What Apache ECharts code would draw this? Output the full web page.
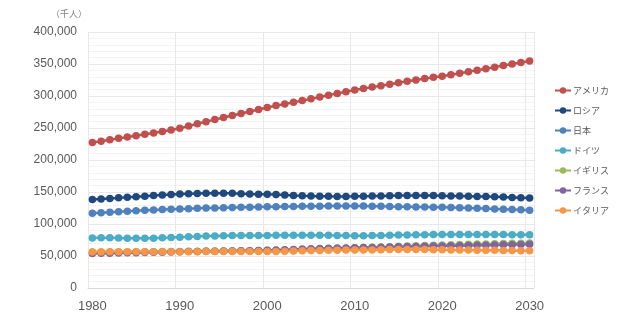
<!DOCTYPE html>
<html>
<head>
<meta charset="utf-8">
<script src="https://cdn.jsdelivr.net/npm/echarts@6/dist/echarts.min.js"></script>
<style>html,body{margin:0;padding:0;background:#fff;}#c{width:640px;height:326px;}</style>
</head>
<body>
<div id="c"></div>
<script>
const years = [];
for (let y = 1980; y <= 2030; y++) years.push(String(y));

const seriesNames = ['アメリカ','ロシア','日本','ドイツ','イギリス','フランス','イタリア'];
const colors = ['#C0504D','#1F497D','#4F81BD','#4BACC6','#9BBB59','#8064A2','#F79646'];

const usa = [227225,229466,231664,233792,235825,237924,240133,242289,244499,246819,
  249623,252981,256514,259919,263126,266278,269394,272657,275854,279040,
  282162,284969,287625,290108,292805,295517,298380,301231,304094,306772,
  309327,311583,313877,316060,318386,320739,323072,325122,327167,329193,
  331003,333250,335600,337950,340300,342650,345100,347500,349900,352300,354700];
const russia = [138257,139094,139957,140823,141696,142576,143479,144394,145283,146089,
  146758,147258,147633,147911,148073,148085,147868,147433,146948,146524,
  146401,145976,145306,144649,144067,143672,143338,143180,143113,143138,
  143243,143411,143617,143850,144097,144342,144504,144496,144478,144406,
  144104,143900,143650,143400,143100,142800,142400,142000,141600,141200,140800];
const japan = [116807,117651,118455,119272,120035,120754,121408,122007,122555,123062,
  123537,123990,124423,124829,125178,125439,125737,126018,126299,126587,
  126843,127075,127298,127513,127680,127773,127854,127940,128000,128050,
  128070,128000,127800,127600,127300,127100,126900,126700,126500,126300,
  126000,125700,125300,124900,124500,124100,123600,123100,122600,122100,121600];
const germany = [78289,78408,78333,78128,77858,77684,77720,77839,78390,78759,
  79433,80013,80624,81156,81438,81678,81915,82034,82047,82100,
  82211,82350,82488,82534,82516,82469,82376,82266,82110,81902,
  81777,81798,81950,82140,82400,82660,82930,83130,83280,83400,
  83500,83560,83600,83620,83610,83580,83530,83460,83380,83290,83200];
const uk = [56314,56333,56313,56332,56410,56550,56680,56800,56920,57060,
  57214,57390,57540,57680,57830,57980,58110,58240,58400,58610,
  58867,59120,59370,59650,59990,60400,60830,61320,61810,62280,
  62760,63260,63700,64130,64610,65130,65600,66020,66460,66840,
  67200,67560,67900,68250,68580,68900,69210,69520,69820,70110,70400];
const france = [53880,54150,54440,54720,54980,55240,55500,55780,56050,56360,
  56667,56950,57200,57420,57610,57800,57990,58180,58380,58660,
  59015,59420,59860,60310,60750,61180,61600,62000,62330,62620,
  62880,63130,63400,63680,63960,64450,64700,64980,65250,65480,
  65700,65950,66200,66450,66700,66950,67200,67450,67700,67950,68200];
const italy = [56329,56420,56500,56560,56600,56620,56640,56660,56680,56700,
  56719,56750,56800,56840,56860,56880,56890,56900,56910,56920,
  56942,57060,57300,57690,58080,58440,58690,58920,59100,59200,
  59277,59380,59540,59850,60180,60230,60200,60100,59980,59850,
  59700,59550,59400,59250,59100,58950,58800,58640,58480,58320,58150];

const allData = [usa, russia, japan, germany, uk, france, italy];

const yTicks = [0,50000,100000,150000,200000,250000,300000,350000,400000];

const chart = echarts.init(document.getElementById('c'), null, {renderer:'canvas'});
const fam = "'Liberation Sans','Noto Sans CJK JP',sans-serif";
chart.setOption({
  animation: false,
  textStyle: {fontFamily: fam},
  color: colors,
  title: {
    text: '（千人）', left: 46, top: 4,
    textStyle: {fontSize: 9, fontWeight: 'normal', color: '#7f7f7f', fontFamily: "'Noto Sans CJK JP',sans-serif"}
  },
  legend: {
    orient: 'vertical', left: 554, top: 86, padding: 0,
    itemWidth: 16, itemHeight: 8, itemGap: 11,
    textStyle: {fontSize: 9, color: '#595959', fontFamily: "'Noto Sans CJK JP',sans-serif", padding: [0,0,0,-3]},
    data: seriesNames
  },
  grid: {left: 88, right: 106, top: 32, bottom: 38, containLabel: false},
  xAxis: {
    type: 'category', data: years, boundaryGap: true,
    axisLine: {show: true, lineStyle: {color: '#d9d9d9'}},
    axisTick: {show: false},
    axisLabel: {interval: 9, fontSize: 13, color: '#595959', margin: 12},
    splitLine: {show: true, interval: 9, lineStyle: {color: '#e8e8e8'}}
  },
  yAxis: {
    type: 'value', min: yTicks[0], max: yTicks[yTicks.length-1], interval: 50000,
    axisLine: {show: false}, axisTick: {show: false},
    axisLabel: {fontSize: 12, color: '#595959', margin: 11,
      formatter: v => v.toLocaleString('en-US')},
    splitLine: {show: true, lineStyle: {color: '#e8e8e8'}},
    minorTick: {show: false, splitNumber: 5},
    minorSplitLine: {show: true, lineStyle: {color: '#f3f3f3'}}
  },
  series: seriesNames.map((n, i) => ({
    name: n, type: 'line', data: allData[i],
    symbol: 'circle', symbolSize: 7.5, showSymbol: true, showAllSymbol: true,
    lineStyle: {width: 2.5, color: colors[i]},
    itemStyle: {color: colors[i]}
  }))
});
</script>
</body>
</html>
